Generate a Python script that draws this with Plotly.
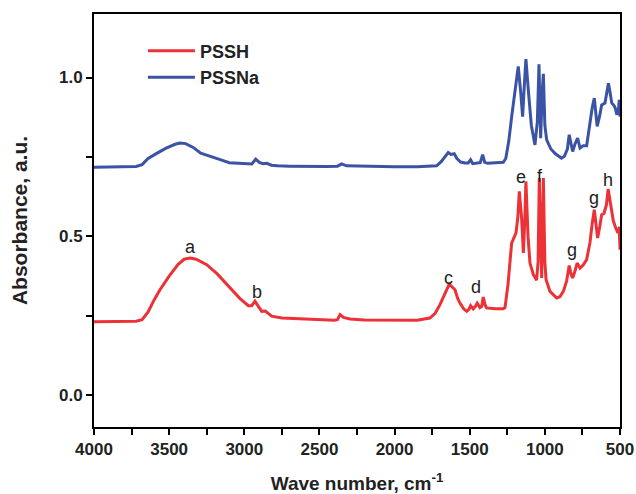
import plotly.graph_objects as go

# PSSNa (blue)
wn_na = [4000, 3850, 3720, 3680, 3640, 3580, 3520, 3460, 3428, 3390, 3340, 3290, 3220, 3150, 3100, 3040,
         2980, 2950, 2924, 2900, 2875, 2850, 2820, 2780, 2700, 2600, 2450, 2380, 2352, 2320, 2200, 2000,
         1850, 1760, 1720, 1690, 1660, 1643, 1625, 1603, 1585, 1560, 1532, 1510, 1494, 1480, 1450, 1430,
         1414, 1400, 1380, 1343, 1300, 1277, 1260, 1240, 1220, 1200, 1177, 1160, 1148, 1135, 1126, 1110,
         1090, 1066, 1050, 1039, 1033, 1028, 1018, 1010, 1000, 988, 960, 930, 900, 889, 870, 850, 838,
         825, 815, 800, 782, 766, 745, 722, 700, 685, 671, 660, 652, 635, 622, 600, 590, 577, 565, 555,
         540, 532, 521, 510, 505, 500]
abs_na = [0.718, 0.718, 0.720, 0.726, 0.745, 0.762, 0.778, 0.790, 0.794, 0.792, 0.780, 0.762, 0.752, 0.740,
          0.732, 0.730, 0.727, 0.728, 0.743, 0.733, 0.729, 0.730, 0.724, 0.722, 0.721, 0.720, 0.720, 0.721,
          0.728, 0.722, 0.720, 0.719, 0.719, 0.720, 0.722, 0.735, 0.755, 0.764, 0.758, 0.760, 0.745, 0.734,
          0.731, 0.731, 0.741, 0.729, 0.731, 0.732, 0.757, 0.733, 0.730, 0.731, 0.731, 0.733, 0.745, 0.800,
          0.880, 0.960, 1.035, 0.950, 0.877, 0.990, 1.058, 0.960, 0.850, 0.788, 0.860, 1.042, 0.900, 0.809,
          0.950, 1.012, 0.850, 0.804, 0.775, 0.760, 0.750, 0.746, 0.752, 0.775, 0.820, 0.785, 0.767, 0.790,
          0.809, 0.778, 0.785, 0.785, 0.857, 0.905, 0.935, 0.880, 0.846, 0.880, 0.914, 0.920, 0.950, 0.982,
          0.950, 0.920, 0.912, 0.905, 0.883, 0.900, 0.930, 0.877]

# PSSH (red)
wn_h = [4000, 3850, 3720, 3680, 3640, 3600, 3561, 3500, 3440, 3400, 3361, 3320, 3250, 3180, 3095, 3030,
        2973, 2950, 2929, 2905, 2884, 2860, 2851, 2830, 2818, 2750, 2629, 2500, 2400, 2380, 2363, 2340,
        2297, 2200, 2000, 1850, 1765, 1730, 1698, 1665, 1636, 1615, 1598, 1580, 1565, 1540, 1520, 1505,
        1494, 1477, 1462, 1450, 1432, 1420, 1410, 1398, 1388, 1330, 1277, 1265, 1245, 1221, 1192, 1180,
        1170, 1155, 1143, 1133, 1126, 1112, 1099, 1077, 1055, 1045, 1037, 1028, 1021, 1015, 1010, 1000,
        992, 966, 921, 900, 877, 855, 838, 825, 815, 800, 785, 766, 745, 722, 700, 685, 671, 660, 649,
        635, 622, 607, 590, 579, 568, 557, 545, 532, 514, 505, 500]
abs_h = [0.231, 0.231, 0.233, 0.238, 0.262, 0.300, 0.332, 0.375, 0.412, 0.428, 0.432, 0.428, 0.411, 0.382,
         0.338, 0.305, 0.282, 0.282, 0.296, 0.278, 0.264, 0.265, 0.262, 0.255, 0.249, 0.243, 0.240, 0.237,
         0.236, 0.238, 0.254, 0.245, 0.240, 0.237, 0.236, 0.236, 0.243, 0.258, 0.285, 0.320, 0.350, 0.340,
         0.332, 0.305, 0.290, 0.272, 0.264, 0.270, 0.282, 0.272, 0.280, 0.290, 0.276, 0.280, 0.309, 0.285,
         0.275, 0.272, 0.272, 0.276, 0.350, 0.479, 0.511, 0.560, 0.642, 0.560, 0.448, 0.560, 0.673, 0.500,
         0.416, 0.380, 0.362, 0.420, 0.684, 0.500, 0.369, 0.550, 0.684, 0.420, 0.364, 0.327, 0.306, 0.310,
         0.327, 0.360, 0.408, 0.380, 0.369, 0.390, 0.416, 0.400, 0.410, 0.427, 0.480, 0.540, 0.584, 0.540,
         0.495, 0.530, 0.568, 0.572, 0.600, 0.649, 0.620, 0.584, 0.550, 0.531, 0.511, 0.530, 0.458]

# Peak labels
label_text = ["a", "b", "c", "d", "e", "f", "g", "g", "h"]
label_wn = [3361, 2916, 1638, 1458, 1160, 1033, 820, 673, 580]
label_abs = [0.468, 0.326, 0.370, 0.342, 0.687, 0.691, 0.458, 0.621, 0.679]

x_ticks = [4000, 3500, 3000, 2500, 2000, 1500, 1000, 500]
y_ticks = [0.0, 0.5, 1.0]

FONT = "Arial, 'Liberation Sans', sans-serif"
TXT = "#222"

fig = go.Figure()
fig.add_trace(go.Scatter(x=wn_h, y=abs_h, mode="lines", name="<b>PSSH</b>",
                         line=dict(color="#ec3237", width=3)))
fig.add_trace(go.Scatter(x=wn_na, y=abs_na, mode="lines", name="<b>PSSNa</b>",
                         line=dict(color="#3a53a4", width=3)))

for t, xv, yv in zip(label_text, label_wn, label_abs):
    fig.add_annotation(x=xv, y=yv, text=t, showarrow=False, xref="x", yref="y",
                       font=dict(family=FONT, size=18, color=TXT))

fig.update_layout(
    width=636, height=494,
    margin=dict(l=94, r=16, t=14, b=67, autoexpand=False),
    paper_bgcolor="white", plot_bgcolor="white",
    font=dict(family=FONT, color=TXT),
    showlegend=True,
    legend=dict(x=0.093, y=0.955, xanchor="left", yanchor="top", itemwidth=47,
                bgcolor="rgba(0,0,0,0)", font=dict(family=FONT, size=18, color=TXT),
                tracegroupgap=0),
)
fig.update_xaxes(
    range=[4000, 500], tickvals=x_ticks, ticktext=[str(v) for v in x_ticks],
    showline=True, linecolor="black", linewidth=2, mirror=True, automargin=False,
    ticks="outside", ticklen=6, tickwidth=2, tickcolor="black",
    minor=dict(tickvals=[3750, 3250, 2750, 2250, 1750, 1250, 750], ticks="outside",
               ticklen=6, tickwidth=2, tickcolor="black"),
    showgrid=False, zeroline=False,
    tickfont=dict(family=FONT, size=17, color=TXT, weight="bold"),
    title=dict(text="<b>Wave number, cm<sup>-1</sup></b>", font=dict(family=FONT, size=19, color=TXT),
               standoff=18),
)
fig.update_yaxes(
    range=[-0.1, 1.2], tickvals=y_ticks, ticktext=["0.0", "0.5", "1.0"],
    showline=True, linecolor="black", linewidth=2, mirror=True, automargin=False,
    ticks="outside", ticklen=6, tickwidth=2, tickcolor="black",
    minor=dict(tickvals=[0.25, 0.75], ticks="outside", ticklen=6, tickwidth=2, tickcolor="black"),
    showgrid=False, zeroline=False,
    tickfont=dict(family=FONT, size=17, color=TXT, weight="bold"),
    title=dict(text="<b>Absorbance, a.u.</b>", font=dict(family=FONT, size=21, color=TXT),
               standoff=26),
)

fig.write_html("out.html")
